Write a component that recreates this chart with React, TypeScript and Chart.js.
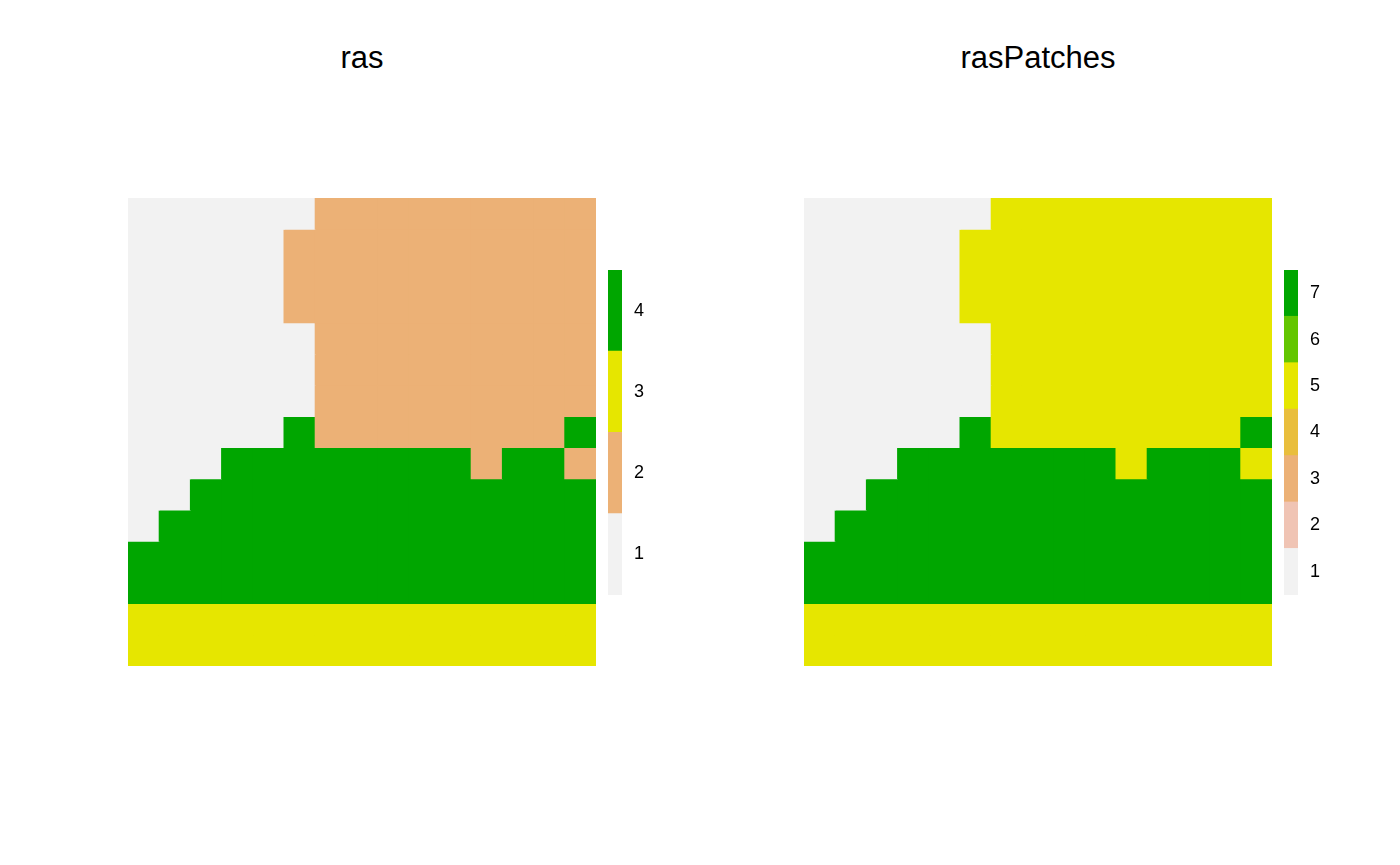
import React, { useEffect, useRef } from "react";
import { Chart, registerables } from "chart.js";

Chart.register(...registerables);

// Raster cell values, one string per row, top row first
const rasRows = [
  "111111222222222",
  "111112222222222",
  "111112222222222",
  "111112222222222",
  "111111222222222",
  "111111222222222",
  "111111222222222",
  "111114222222224",
  "111444444442442",
  "114444444444444",
  "144444444444444",
  "444444444444444",
  "444444444444444",
  "333333333333333",
  "333333333333333",
];

const patchRows = [
  "111111555555555",
  "111115555555555",
  "111115555555555",
  "111115555555555",
  "111111555555555",
  "111111555555555",
  "111111555555555",
  "111117555555557",
  "111777777757775",
  "117777777777777",
  "177777777777777",
  "777777777777777",
  "777777777777777",
  "555555555555555",
  "555555555555555",
];

const columnLabels = ["1", "2", "3", "4", "5", "6", "7", "8", "9", "10", "11", "12", "13", "14", "15"];

const rasLevels = [1, 2, 3, 4];
const rasColors = ["#F2F2F2", "#ECB176", "#E6E600", "#00A600"];

const patchLevels = [1, 2, 3, 4, 5, 6, 7];
const patchColors = ["#F2F2F2", "#F0C4B4", "#ECB176", "#E9BE3C", "#E6E600", "#63C600", "#00A600"];

const FONT = "'Liberation Sans', Arial, Helvetica, sans-serif";

function RasterChart(props: { rows: string[]; levels: number[]; colors: string[]; left: number; top: number; size: number }) {
  const ref = useRef<HTMLCanvasElement>(null);
  useEffect(() => {
    const { rows, levels, colors } = props;
    const n = rows.length;
    const datasets = rows.map((row, i) => {
      const y = n - 1 - i;
      const cells = row.split("").map((c) => Number(c));
      return {
        data: cells.map(() => [y, y + 1]),
        backgroundColor: cells.map((v) => colors[levels.indexOf(v)]),
        borderWidth: 0,
        inflateAmount: 0.5,
        categoryPercentage: 1,
        barPercentage: 1,
      };
    });
    const chart = new Chart(ref.current!, {
      type: "bar",
      data: { labels: columnLabels, datasets: datasets as any },
      options: {
        animation: false,
        responsive: false,
        maintainAspectRatio: false,
        devicePixelRatio: 1,
        layout: { padding: 0 },
        plugins: { legend: { display: false }, tooltip: { enabled: false }, title: { display: false } },
        scales: {
          x: { type: "category", stacked: true, display: false },
          y: { type: "linear", stacked: false, min: 0, max: n, display: false },
        },
      },
    });
    return () => chart.destroy();
  }, []);
  return (
    <canvas
      ref={ref}
      width={props.size}
      height={props.size}
      style={{ position: "absolute", left: props.left, top: props.top, width: props.size, height: props.size }}
    />
  );
}

function ColorKey(props: { levels: number[]; colors: string[]; left: number; top: number; barWidth: number; height: number }) {
  const ref = useRef<HTMLCanvasElement>(null);
  const axisWidth = 40;
  useEffect(() => {
    const { levels, colors } = props;
    const datasets = levels.map((lv, i) => ({
      data: [[lv - 0.5, lv + 0.5]],
      backgroundColor: colors[i],
      borderWidth: 0,
      inflateAmount: 0.5,
      categoryPercentage: 1,
      barPercentage: 1,
    }));
    const chart = new Chart(ref.current!, {
      type: "bar",
      data: { labels: [""], datasets: datasets as any },
      options: {
        animation: false,
        responsive: false,
        maintainAspectRatio: false,
        devicePixelRatio: 1,
        layout: { padding: 0 },
        plugins: { legend: { display: false }, tooltip: { enabled: false }, title: { display: false } },
        scales: {
          x: { type: "category", stacked: true, display: false },
          y: {
            type: "linear",
            stacked: false,
            position: "right",
            min: levels[0] - 0.5,
            max: levels[levels.length - 1] + 0.5,
            grid: { display: false, drawTicks: false },
            border: { display: false },
            ticks: { padding: 12, color: "#000", font: { family: FONT, size: 18 }, autoSkip: false },
            afterBuildTicks: (s: any) => {
              s.ticks = levels.map((v) => ({ value: v }));
            },
            afterFit: (s: any) => {
              s.width = axisWidth;
              s.paddingTop = 0;
              s.paddingBottom = 0;
            },
          },
        },
      },
    });
    return () => chart.destroy();
  }, []);
  const w = props.barWidth + axisWidth;
  return (
    <canvas
      ref={ref}
      width={w}
      height={props.height}
      style={{ position: "absolute", left: props.left, top: props.top, width: w, height: props.height }}
    />
  );
}

function Title(props: { text: string; center: number }) {
  return (
    <div
      style={{
        position: "absolute",
        left: props.center - 200,
        width: 400,
        top: 42,
        textAlign: "center",
        fontFamily: FONT,
        fontSize: 31,
        lineHeight: "31px",
        color: "#000",
      }}
    >
      {props.text}
    </div>
  );
}

export default function App() {
  useEffect(() => {
    document.body.style.margin = "0";
  }, []);
  return (
    <div style={{ position: "absolute", left: 0, top: 0, width: 1400, height: 865, background: "#fff", overflow: "hidden" }}>
      <Title text="ras" center={362} />
      <Title text="rasPatches" center={1038} />
      <RasterChart rows={rasRows} levels={rasLevels} colors={rasColors} left={128} top={198} size={468} />
      <RasterChart rows={patchRows} levels={patchLevels} colors={patchColors} left={804} top={198} size={468} />
      <ColorKey levels={rasLevels} colors={rasColors} left={608} top={270} barWidth={14} height={325} />
      <ColorKey levels={patchLevels} colors={patchColors} left={1284} top={270} barWidth={14} height={325} />
    </div>
  );
}
